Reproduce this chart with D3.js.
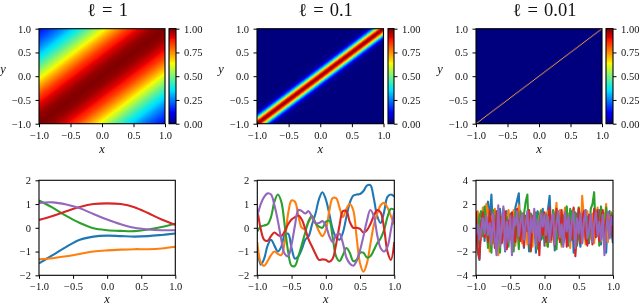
<!DOCTYPE html>
<html lang="en">
<head>
  <meta charset="UTF-8">
  <title>RBF kernels and samples</title>
  <script src="https://d3js.org/d3.v7.min.js"></script>
  <style>
    html, body { margin: 0; background: #fff; }
    svg { display: block; filter: blur(0.3px); }
    text { font-family: "Liberation Serif", serif; fill: #111; }
    .tick text { font-size: 10.5px; }
    .tick line, .domain { stroke: #000; stroke-width: 1px; }
    .frame { fill: none; stroke: #000; stroke-width: 1.1px; }
    .lab { font-size: 12.5px; font-style: italic; }
    .title { font-size: 18.5px; word-spacing: 1.5px; }
  </style>
</head>
<body>
  <script>
    // Titles and tick labels
    const titles = ["\u2113 = 1", "\u2113 = 0.1", "\u2113 = 0.01"];
    const domainTicks = [-1, -0.5, 0, 0.5, 1];
    const colorTicks = [0, 0.25, 0.5, 0.75, 1];
    const sampleYTicks = [[-2, -1, 0, 1, 2], [-2, -1, 0, 1, 2], [-4, -2, 0, 2, 4]];
    const sampleYDomains = [[-2, 2], [-2, 2], [-4, 4]];
    const seriesColors = ["#1f77b4", "#ff7f0e", "#2ca02c", "#d62728", "#9467bd"];

    // Kernel value against |x - y|
    const lagWide = [0, 0.2, 0.4, 0.6, 0.8, 1, 1.2, 1.4, 1.6, 1.8, 2];
    const corrWide = [1, 0.98, 0.92, 0.84, 0.73, 0.61, 0.49, 0.38, 0.28, 0.2, 0.14];
    const lagMid = [0, 0.05, 0.1, 0.15, 0.2, 0.25, 0.3, 0.4, 2];
    const corrMid = [1, 0.88, 0.61, 0.32, 0.14, 0.04, 0.01, 0, 0];
    const lagNarrow = [0, 0.005, 0.021, 2];
    const corrNarrow = [0.72, 0.72, 0, 0];

    // Matplotlib jet stops
    const jetStops = [0, 0.11, 0.125, 0.35, 0.375, 0.64, 0.66, 0.89, 0.91, 1];
    const jetColors = ["#00007f", "#0000f1", "#0000ff", "#00dbff", "#02e8f4", "#f7ff00", "#ffe200", "#ff1300", "#e80000", "#7f0000"];

    // x positions of the samples
    const xsSmooth = [-1, -0.8, -0.6, -0.4, -0.2, 0, 0.2, 0.4, 0.6, 0.8, 1];
    const xsWiggly = [-1, -0.95, -0.9, -0.85, -0.8, -0.75, -0.7, -0.65, -0.6, -0.55, -0.5, -0.45, -0.4, -0.35, -0.3, -0.25, -0.2, -0.15, -0.1, -0.05, 0, 0.05, 0.1, 0.15, 0.2, 0.25, 0.3, 0.35, 0.4, 0.45, 0.5, 0.55, 0.6, 0.65, 0.7, 0.75, 0.8, 0.85, 0.9, 0.95, 1];
    const xsNoisy = [-1, -0.975, -0.95, -0.925, -0.9, -0.875, -0.85, -0.825, -0.8, -0.775, -0.75, -0.725, -0.7, -0.675, -0.65, -0.625, -0.6, -0.575, -0.55, -0.525, -0.5, -0.475, -0.45, -0.425, -0.4, -0.375, -0.35, -0.325, -0.3, -0.275, -0.25, -0.225, -0.2, -0.175, -0.15, -0.125, -0.1, -0.075, -0.05, -0.025, 0, 0.025, 0.05, 0.075, 0.1, 0.125, 0.15, 0.175, 0.2, 0.225, 0.25, 0.275, 0.3, 0.325, 0.35, 0.375, 0.4, 0.425, 0.45, 0.475, 0.5, 0.525, 0.55, 0.575, 0.6, 0.625, 0.65, 0.675, 0.7, 0.725, 0.75, 0.775, 0.8, 0.825, 0.85, 0.875, 0.9, 0.925, 0.95, 0.975, 1];

    // Left sample panel
    const smoothBlue = [-1.5, -1.15, -0.8, -0.5, -0.37, -0.33, -0.35, -0.37, -0.35, -0.3, -0.24];
    const smoothOrange = [-1.33, -1.28, -1.2, -1.1, -1, -0.95, -0.92, -0.9, -0.9, -0.87, -0.8];
    const smoothGreen = [1.15, 0.85, 0.5, 0.2, -0.02, -0.1, -0.13, -0.14, -0.07, 0.03, 0.17];
    const smoothRed = [0.33, 0.5, 0.7, 0.88, 1, 1.03, 1, 0.87, 0.62, 0.35, 0.13];
    const smoothPurple = [1.05, 1.07, 0.98, 0.82, 0.58, 0.35, 0.15, 0, -0.07, -0.1, -0.1];

    // Middle sample panel
    const wigglyBlue = [-0.8, -1.55, -1.3, -0.75, -0.5, -0.75, -1, -0.8, -0.3, -0.25, -0.85, -1.3, -1.2, -0.9, -0.5, -0.35, 0.15, 0.6, 1.2, 1.5, 1.2, 0.6, -0.05, -0.4, -0.5, -0.2, 0.45, 1.05, 1.35, 1.4, 1.42, 1.55, 1.78, 1.8, 1.25, 0.5, 0.2, 0.65, 1.3, 1.4, 1.32];
    const wigglyOrange = [-0.6, -1.45, -1.6, -1.4, -1.15, -1, -1.1, -1.15, -0.6, 0.6, 1.15, 1.1, 0.5, 0, -0.05, 0.25, 0.45, 0.2, -0.15, -0.35, -0.1, 0.7, 1.25, 1.25, 0.85, 0.45, 0.8, 1, 0.75, -0.4, -1.5, -1.85, -1.5, -0.7, 0.1, 0.6, 0.95, 1.05, 0.85, 0.5, 0.15];
    const wigglyGreen = [-0.15, 0.05, 0.1, 0.15, 0.45, 1.1, 1.4, 1.1, 0.1, -1, -1.6, -1.6, -1.2, -0.7, -0.2, 0.3, 0.5, 0.2, 0.05, 0, 0.25, 0.3, -0.4, -1.2, -1.4, -1.15, -0.85, -1.05, -1.4, -1.35, -1.05, -1.05, -1.25, -1.2, -0.95, -0.65, -0.45, -0.1, 0.45, 0.8, 0.75];
    const wigglyRed = [0.8, -0.05, -0.5, -0.55, -0.35, -0.2, -0.3, -0.35, -0.15, 0.15, 0.35, 0.45, 0.52, 0.35, -0.05, -0.5, -0.8, -1.1, -1.35, -1.33, -1.35, -1.43, -1.3, -0.7, 0.1, 0.7, 0.7, 0.25, 0, 0, -0.05, -0.2, -0.1, 0.15, 0.5, 0.75, 0.65, 0, -1, -1.35, -0.6];
    const wigglyPurple = [0.5, 1, 1.3, 1.45, 1.4, 0.95, 0.3, -0.5, -1.1, -1.2, -0.7, 0.1, 0.75, 0.7, 0.6, 0.7, 0.45, 0.2, 0.2, 0.28, 0.1, -0.35, -0.6, -0.3, -0.25, -0.65, -1.25, -1.5, -1.6, -1.4, -0.95, -0.35, 0.3, 0.75, 0.5, -0.3, -0.85, -1, -0.8, -0.1, 0.7];

    // Right sample panel
    const noisyBlue = [1, -2, -2.7, 0.6, 1.3, -1.1, 1.5, 2.2, 0.7, 2.8, -0.7, 1.3, -1.5, 0.4, 1.6, -1.2, 0.6, -2, 1.4, -0.5, 1.2, -1.4, 0.7, 1.7, 2.3, 2.9, -0.8, 0.8, -1.7, 1, 0.4, -2, 1.2, -0.6, 0.9, -2.1, 1.4, 0.3, -1, 1.6, -1.5, 0.7, 1.5, 2.7, -0.7, 0.9, -1.9, 0.8, 1.3, -0.4, 0.9, -1.3, -0.6, 1.3, -1.5, 0.5, 1.4, -2.1, 0.8, 1.2, -0.8, -1.6, 1.1, 0.3, 1.5, -0.6, -1.3, 0.9, 1.1, -1, 1.3, -0.5, 1.5, -1.4, 0.6, 1.2, -2.1, 0.7, 1.4, -0.3, -1.3];
    const noisyOrange = [-0.5, 1.4, 0.2, -1, 1.7, -0.8, 2, 1.4, -2, 0.9, -1.3, 1.6, 0.6, -2.3, 1, -0.6, 1.4, -1.6, 0.7, 1.5, -1, 0.4, 1.5, -1.5, 0.8, 1.9, -0.3, -1.3, 1.2, 0.5, -1.4, 1.3, 0.7, -1.6, 1.1, 0.2, -1.8, 1, 1.5, -0.7, 0.9, -1.5, 1.4, 0.4, -1.2, 1.3, 0.6, 2.1, -0.9, 1.5, -1.6, 0.7, 1.7, -0.5, 1.2, -1.7, 0.9, 1.6, -0.8, 0.3, 1.7, -1.2, 2.7, 0.8, -1.4, 1.4, 0.2, -0.9, 1.2, -1.3, 0.6, 1.7, -0.4, -1.1, 1.4, 0.4, 2, -1.2, 0.8, 1.3, -0.2];
    const noisyGreen = [0.4, -1.4, 1, 1.4, -0.7, 1.8, 0.5, -1.7, 1.3, -2.1, 1.5, 0.4, -1.8, 1.2, -2.1, 0.7, 1.6, -1.3, 0.9, -1.6, 1.1, -0.8, -2, 1.3, 0.5, -1.8, 1.4, -0.4, 1.1, 2.2, 2.8, -1.2, -2, 1, 0.3, 1.3, -1.7, 0.5, 1.4, -0.9, 1.2, 0.2, -1.6, 1.1, -0.5, 1.5, 0.9, -1.8, 1.2, 0.6, -1.4, 1, -0.7, 1.8, -1.2, 1.6, 0.4, -0.9, 1.3, -1.5, 1.7, 0.6, -1.3, 1, -0.4, 0.9, -1.1, 1.6, 2, 3, -0.6, 1.4, -1.5, 1.8, -0.2, -1.2, 1.7, 0.3, -0.8, 1.2, -0.7];
    const noisyRed = [1.4, -1.8, -2.6, 0.2, 1.3, -0.8, 0.9, -1.2, 1.5, -0.5, 0.7, -1.7, 1.4, -0.9, 1, -1.3, -0.4, 1.4, -1.8, 0.6, -0.9, 1.3, -0.7, -1.2, 1.6, 0.3, -1.1, 1.2, -1.6, 1, -0.3, 1.5, -1.9, 0.7, 1.3, -1, 0.4, -2.3, 1.1, -0.6, 1.3, -1.2, 0.5, 1.7, -1, 0.8, -1.5, 1.6, 0.1, -1.2, 1.5, -0.7, 1.2, -1.6, 0.9, 0.3, -1, 1.7, -2.4, -0.4, 1.6, -1.3, 0.8, 1.4, -0.9, -1.5, 1.1, 0.3, -1.4, 1.6, -0.8, 1.5, -1.1, 0.7, 1.5, -1.6, 0.6, 1.3, -0.6, 1, -0.9];
    const noisyPurple = [-0.6, 0.3, -1, -0.2, 0.8, -0.5, 1, -0.6, 0.4, -1.4, 1.2, -0.9, -2.3, 1.9, -1.6, 0.3, 1.8, -1.9, 0.5, -1.2, 1, -2.3, 0.9, 0.2, 1.4, -0.7, 0.5, 1.2, -1, 0.3, 1.4, -1.3, 0.8, -0.4, 1.6, -1.5, 0.7, -1.1, 1.2, 0.1, 1.1, -0.6, 0.9, -1.2, 0.5, 1.2, -1.4, 0.4, 1.4, -0.8, 0.3, -1.6, 1.3, -0.3, 1, -1.1, 0.6, 1.4, -1.7, 0.8, -0.5, 1.2, -1.3, 0.5, 1.5, -0.9, -0.2, 1.1, -1.2, 0.4, 1.3, -0.7, 0.5, -1, 1.1, -2.3, -0.3, 1.3, -0.9, 0.9, 0.2];

    const cellCount = 100;
    const heatmaps = [
      { lag: lagWide, corr: corrWide, left: 39, right: 165, barLeft: 169, barRight: 176, yLabel: 3 },
      { lag: lagMid, corr: corrMid, left: 257, right: 383.5, barLeft: 388, barRight: 394, yLabel: 221 },
      { lag: lagNarrow, corr: corrNarrow, left: 476, right: 602, barLeft: 606, barRight: 613, yLabel: 440 }
    ];
    const samplePanels = [
      { xs: xsSmooth, series: [smoothBlue, smoothOrange, smoothGreen, smoothRed, smoothPurple], left: 39, right: 175.3, curve: d3.curveCatmullRom },
      { xs: xsWiggly, series: [wigglyBlue, wigglyOrange, wigglyGreen, wigglyRed, wigglyPurple], left: 257.3, right: 394.3, curve: d3.curveCatmullRom },
      { xs: xsNoisy, series: [noisyBlue, noisyOrange, noisyGreen, noisyRed, noisyPurple], left: 476, right: 613, curve: d3.curveLinear }
    ];

    const heatTop = 28.7, heatBottom = 123.7;
    const lineTop = 180.3, lineBottom = 275.3;

    const svg = d3.select("body").append("svg")
      .attr("width", 640)
      .attr("height", 306);

    const jet = d3.scaleLinear().domain(jetStops).range(jetColors).clamp(true);
    const cellIds = d3.range(cellCount);

    function drawFrame(x0, x1, y0, y1) {
      svg.append("rect").attr("class", "frame")
        .attr("x", x0).attr("y", y0)
        .attr("width", x1 - x0).attr("height", y1 - y0);
    }

    function addClip(id, x0, x1, y0, y1) {
      svg.append("clipPath").attr("id", id).append("rect")
        .attr("x", x0).attr("y", y0)
        .attr("width", x1 - x0).attr("height", y1 - y0);
    }

    function drawAxes(x, y, xTicks, yTicks, bottom, left, yFormat) {
      const gx = svg.append("g").attr("transform", `translate(0,${bottom})`)
        .call(d3.axisBottom(x).tickValues(xTicks).tickSize(3.5).tickPadding(4).tickFormat(d3.format(".1f")));
      gx.select(".domain").remove();
      const gy = svg.append("g").attr("transform", `translate(${left},0)`)
        .call(d3.axisLeft(y).tickValues(yTicks).tickSize(3.5).tickPadding(4.5).tickFormat(yFormat));
      gy.select(".domain").remove();
    }

    // Top row: kernel heatmaps with colorbars
    heatmaps.forEach((h, i) => {
      const x = d3.scaleLinear().domain([-1, 1]).range([h.left, h.right]);
      const y = d3.scaleLinear().domain([-1, 1]).range([heatBottom, heatTop]);
      const bandX = d3.scaleBand().domain(cellIds).range([h.left, h.right]);
      const bandY = d3.scaleBand().domain(cellIds).range([heatBottom, heatTop]);
      const cellPos = d3.scaleLinear().domain([0, cellCount - 1]).range([-1, 1]);
      const value = d3.scaleLinear().domain(h.lag).range(h.corr);

      // Rows go top to bottom and every cell runs under the next one, so no seams show
      const cells = cellIds.slice().reverse().flatMap(r => cellIds.map(c => ({ r, c, v: value(Math.abs(cellPos(c) - cellPos(r))) })));
      addClip(`heat-${i}`, h.left, h.right, heatTop, heatBottom);
      svg.append("g").attr("clip-path", `url(#heat-${i})`)
        .selectAll("rect").data(cells).join("rect")
        .attr("x", d => bandX(d.c)).attr("y", d => bandY(d.r))
        .attr("width", bandX.bandwidth() + 1.5)
        .attr("height", bandY.bandwidth() + 1.5)
        .attr("fill", d => jet(d.v));
      drawFrame(h.left, h.right, heatTop, heatBottom);
      drawAxes(x, y, domainTicks, domainTicks, heatBottom, h.left, d3.format(".1f"));

      // Colorbar
      const barY = d3.scaleLinear().domain([0, 1]).range([heatBottom, heatTop]);
      const barSteps = d3.range(0, 256).map(k => k / 255);
      svg.append("g").attr("shape-rendering", "crispEdges")
        .selectAll("rect").data(barSteps).join("rect")
        .attr("x", h.barLeft).attr("y", d => barY(d) - 0.6)
        .attr("width", h.barRight - h.barLeft).attr("height", 1.2)
        .attr("fill", d => jet(d));
      drawFrame(h.barLeft, h.barRight, heatTop, heatBottom);
      const gc = svg.append("g").attr("transform", `translate(${h.barRight},0)`)
        .call(d3.axisRight(barY).tickValues(colorTicks).tickSize(3.5).tickPadding(4.5).tickFormat(d3.format(".2f")));
      gc.select(".domain").remove();

      svg.append("text").attr("class", "lab").attr("text-anchor", "middle")
        .attr("x", (h.left + h.right) / 2).attr("y", 153).text("x");
      svg.append("text").attr("class", "lab").attr("text-anchor", "middle")
        .attr("x", h.yLabel).attr("y", 73).text("y");
      svg.append("text").attr("class", "title").attr("text-anchor", "middle")
        .attr("x", (h.left + h.barRight) / 2).attr("y", 15.5).text(titles[i]);
    });

    // Bottom row: samples
    samplePanels.forEach((p, i) => {
      const x = d3.scaleLinear().domain([-1, 1]).range([p.left, p.right]);
      const y = d3.scaleLinear().domain(sampleYDomains[i]).range([lineBottom, lineTop]);
      const line = d3.line().x((d, k) => x(p.xs[k])).y(d => y(d)).curve(p.curve);

      addClip(`clip-${i}`, p.left, p.right, lineTop, lineBottom);
      svg.append("g").attr("clip-path", `url(#clip-${i})`)
        .selectAll("path").data(p.series).join("path")
        .attr("d", line)
        .attr("fill", "none")
        .attr("stroke", (d, k) => seriesColors[k])
        .attr("stroke-width", 2.1)
        .attr("stroke-linejoin", "round");

      drawFrame(p.left, p.right, lineTop, lineBottom);
      drawAxes(x, y, domainTicks, sampleYTicks[i], lineBottom, p.left, d3.format("d"));

      svg.append("text").attr("class", "lab").attr("text-anchor", "middle")
        .attr("x", (p.left + p.right) / 2).attr("y", 302.5).text("x");
    });
  </script>
</body>
</html>
